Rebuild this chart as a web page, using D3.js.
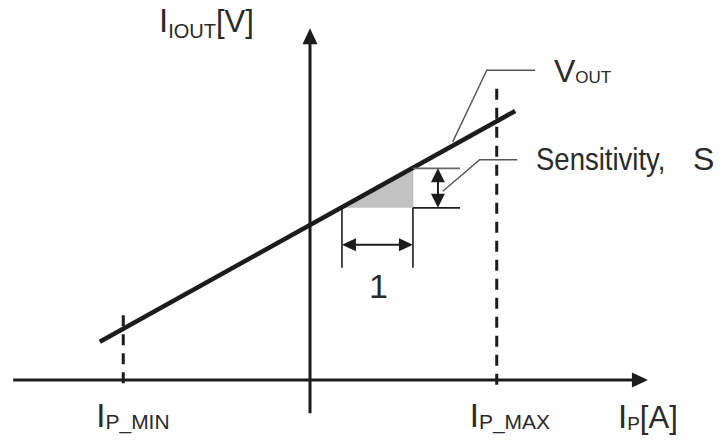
<!DOCTYPE html>
<html>
<head>
<meta charset="utf-8">
<script src="https://cdn.jsdelivr.net/npm/d3@7"></script>
<style>
  html, body { margin: 0; padding: 0; background: #fff; }
  svg { display: block; }
  text { font-family: "Liberation Sans", Arial, Helvetica, sans-serif; fill: #2a2a2a; }
</style>
</head>
<body>
<svg id="chart" width="721" height="441"></svg>
<script>
// ---- data (conceptual units: current Ip in "units", output in volts) ----
const ipAxisExtent = [-4.18, 4.76];      // horizontal axis extent
const vAxisExtent = [-0.54, 5.7];        // vertical axis extent
const voutIp = [-2.96, 2.89];            // V_OUT line end points (Ip)
const voutV  = [0.62, 4.36];             // V_OUT line end points (V)
const limitNames = ["P_MIN", "P_MAX"];
const limitIp = [-2.63, 2.63];           // I_P_MIN, I_P_MAX
const limitTopV = [1.05, 4.72];          // top of dashed limit lines
const limitBottomV = -0.13;              // bottom of dashed limit lines
const sensIp = [0.45, 1.45];             // one unit step of Ip
const sensV = [2.79, 3.43];              // corresponding V_OUT change (S)

const svg = d3.select("#chart");
const x = d3.scaleLinear().domain([0, 1]).range([310, 381]);
const y = d3.scaleLinear().domain([0, 1]).range([380, 318.3]);
const ink = "#1c1c1c";

function tri(tipX, tipY, dx, dy, len, half) {
  const bx = tipX - dx * len, by = tipY - dy * len;
  const px = -dy * half, py = dx * half;
  return `M${tipX},${tipY}L${bx + px},${by + py}L${bx - px},${by - py}Z`;
}

// ---- sensitivity shaded triangle ----
svg.append("path")
  .attr("d", `M${x(sensIp[0])},${y(sensV[0])}L${x(sensIp[1])},${y(sensV[1])}L${x(sensIp[1])},${y(sensV[0])}Z`)
  .attr("fill", "#c2c2c2");
svg.append("line")
  .attr("x1", x(sensIp[1])).attr("x2", x(sensIp[1]))
  .attr("y1", y(sensV[1])).attr("y2", y(sensV[0]))
  .attr("stroke", "#aaa").attr("stroke-width", 1).attr("stroke-dasharray", "1,1");

// ---- axes ----
svg.append("line")
  .attr("x1", x(ipAxisExtent[0])).attr("x2", x(ipAxisExtent[1]) - 12)
  .attr("y1", y(0)).attr("y2", y(0))
  .attr("stroke", ink).attr("stroke-width", 3);
svg.append("path").attr("d", tri(x(ipAxisExtent[1]), y(0), 1, 0, 16, 7.5)).attr("fill", ink);

svg.append("line")
  .attr("x1", x(0)).attr("x2", x(0))
  .attr("y1", y(vAxisExtent[0])).attr("y2", y(vAxisExtent[1]) + 12)
  .attr("stroke", ink).attr("stroke-width", 3);
svg.append("path").attr("d", tri(x(0), y(vAxisExtent[1]), 0, -1, 16, 7.5)).attr("fill", ink);

// ---- dashed limit lines ----
svg.selectAll(".limit").data(limitIp).enter().append("line")
  .attr("class", "limit")
  .attr("x1", d => x(d)).attr("x2", d => x(d))
  .attr("y1", (d, i) => y(limitTopV[i])).attr("y2", y(limitBottomV))
  .attr("stroke", ink).attr("stroke-width", 3)
  .attr("stroke-dasharray", "11,8");

// ---- V_OUT line ----
svg.append("line")
  .attr("x1", x(voutIp[0])).attr("y1", y(voutV[0]))
  .attr("x2", x(voutIp[1])).attr("y2", y(voutV[1]))
  .attr("stroke", ink).attr("stroke-width", 4.5);

// ---- dimension lines for sensitivity ----
const thin = 1.6;
[0, 1].forEach(i => {
  svg.append("line")
    .attr("x1", x(sensIp[i])).attr("x2", x(sensIp[i]))
    .attr("y1", y(sensV[0])).attr("y2", y(sensV[0]) + 60)
    .attr("stroke", ink).attr("stroke-width", thin);
});
svg.append("line")
  .attr("x1", x(sensIp[1])).attr("x2", x(sensIp[1]) + 47)
  .attr("y1", y(sensV[1])).attr("y2", y(sensV[1]))
  .attr("stroke", "#666").attr("stroke-width", thin);
svg.append("line")
  .attr("x1", x(sensIp[1])).attr("x2", x(sensIp[1]) + 47)
  .attr("y1", y(sensV[0])).attr("y2", y(sensV[0]))
  .attr("stroke", ink).attr("stroke-width", thin);

// horizontal double arrow
const hy = y(sensV[0]) + 37;
svg.append("line")
  .attr("x1", x(sensIp[0]) + 10).attr("x2", x(sensIp[1]) - 10)
  .attr("y1", hy).attr("y2", hy)
  .attr("stroke", ink).attr("stroke-width", 2);
svg.append("path").attr("d", tri(x(sensIp[0]), hy, -1, 0, 14, 6.5)).attr("fill", ink);
svg.append("path").attr("d", tri(x(sensIp[1]), hy, 1, 0, 14, 6.5)).attr("fill", ink);

// vertical double arrow
const vx = x(sensIp[1]) + 25;
svg.append("line")
  .attr("x1", vx).attr("x2", vx)
  .attr("y1", y(sensV[1]) + 8).attr("y2", y(sensV[0]) - 8)
  .attr("stroke", ink).attr("stroke-width", 2);
svg.append("path").attr("d", tri(vx, y(sensV[1]), 0, -1, 14, 7)).attr("fill", ink);
svg.append("path").attr("d", tri(vx, y(sensV[0]), 0, 1, 14, 7)).attr("fill", ink);

// ---- leader lines ----
const leaderVout = [[2.01, 3.86], [2.49, 5.02], [3.17, 5.02]];
const leaderSens = [[1.87, 3.06], [2.39, 3.57], [2.92, 3.57]];
const lineGen = d3.line().x(d => x(d[0])).y(d => y(d[1]));
[leaderVout, leaderSens].forEach(pts => {
  svg.append("path").attr("d", lineGen(pts))
    .attr("fill", "none").attr("stroke", "#555").attr("stroke-width", 1.4);
});

// ---- labels: one text element per label, sub-parts as tspans ----
function label(px, py, sx, parts) {
  const t = svg.append("text")
    .attr("transform", `translate(${px},${py}) scale(${sx},1)`);
  parts.forEach(p => {
    const s = t.append("tspan").attr("font-size", p.size).text(p.text);
    if (p.dy) s.attr("dy", p.dy);
  });
}
// y-axis title  I_IOUT[V]
label(159, 32, 1, [
  { text: "I", size: 33 },
  { text: "IOUT", size: 20, dy: 6 },
  { text: "[V]", size: 31, dy: -6 }
]);
// V_OUT
label(554, 82, 1, [
  { text: "V", size: 32 },
  { text: "OUT", size: 17, dy: 1 }
]);
// Sensitivity, S
label(536, 170, 0.86, [{ text: "Sensitivity,", size: 32 }]);
label(693, 170, 1, [{ text: "S", size: 32 }]);
// bottom limit labels
limitIp.forEach((d, i) => {
  label(x(d) - 27, 427, 1, [
    { text: "I", size: 33 },
    { text: limitNames[i], size: 21, dy: 2 }
  ]);
});
// x-axis title I_P[A]
label(618, 428, 1, [
  { text: "I", size: 33 },
  { text: "P", size: 19, dy: 2 },
  { text: "[A]", size: 31, dy: -2 }
]);
// "1"
svg.append("text")
  .attr("x", (x(sensIp[0]) + x(sensIp[1])) / 2 + 1).attr("y", 298)
  .attr("font-size", 34).attr("text-anchor", "middle").text("1");
</script>
</body>
</html>
